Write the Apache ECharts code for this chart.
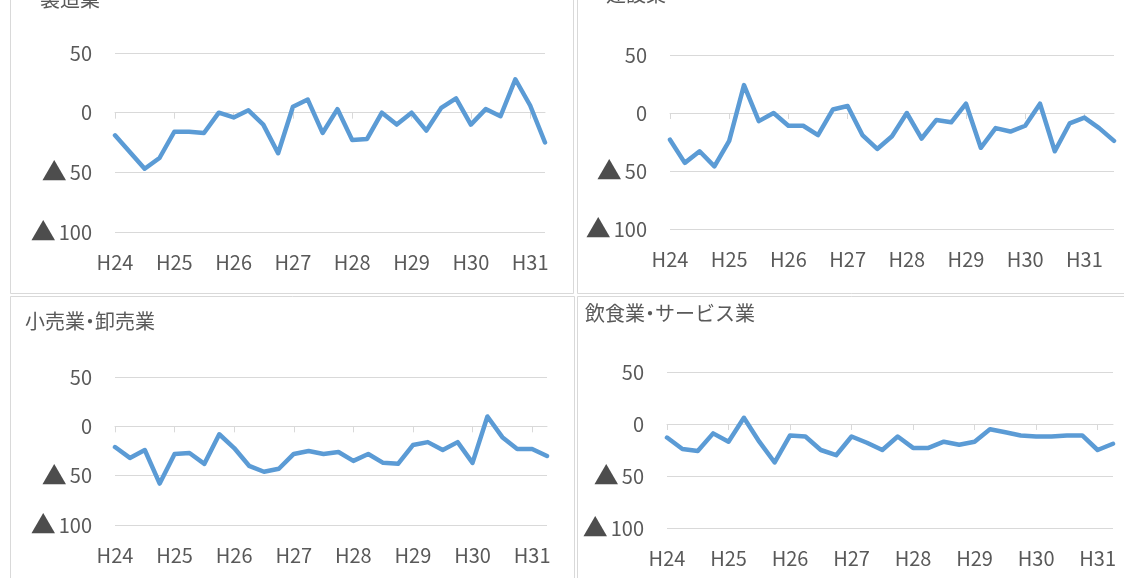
<!DOCTYPE html>
<html>
<head>
<meta charset="utf-8">
<script src="https://cdn.jsdelivr.net/npm/echarts@6/dist/echarts.min.js"></script>
<style>
  html, body { margin: 0; padding: 0; background: #fff; }
  #main { width: 1124px; height: 578px; }
</style>
</head>
<body>
<div id="main"></div>
<script>
// 年度ラベル（四半期ごとのデータ）
var years = ['H24', 'H25', 'H26', 'H27', 'H28', 'H29', 'H30', 'H31', 'H32'];
var yTicks = [-100, -50, 0, 50];

// 各業種のDI値
var seizou = [-19, -33, -47, -38, -16, -16, -17, 0, -4, 2, -10, -34, 5, 11, -17, 3, -23, -22, 0, -10, 0, -15, 4, 12, -10, 3, -3, 28, 6, -25];
var kensetsu = [-23, -43, -33, -46, -24, 24, -7, 0, -11, -11, -19, 3, 6, -19, -31, -20, 0, -22, -6, -8, 8, -30, -13, -16, -11, 8, -33, -9, -4, -13, -24];
var kouri = [-21, -32, -24, -58, -28, -27, -38, -8, -22, -40, -46, -43, -28, -25, -28, -26, -35, -28, -37, -38, -19, -16, -24, -16, -37, 10, -11, -23, -23, -30];
var inshoku = [-13, -24, -26, -9, -17, 6, -17, -37, -11, -12, -25, -30, -12, -18, -25, -12, -23, -23, -17, -20, -17, -5, -8, -11, -12, -12, -11, -11, -25, -19];

var panels = [
    {title: ['製造業'], data: seizou, grid: {left: 115, right: 579, top: 53, bottom: 346}, titlePos: {left: 40, top: -11}},
    {title: ['建設業'], data: kensetsu, grid: {left: 670, right: 10, top: 55, bottom: 349}, titlePos: {left: 606, top: -16}},
    {title: ['小売業', '卸売業'], data: kouri, grid: {left: 115, right: 577, top: 377, bottom: 53}, titlePos: {left: 25, top: 311}},
    {title: ['飲食業', 'サービス業'], data: inshoku, grid: {left: 667, right: 11, top: 372, bottom: 50}, titlePos: {left: 585, top: 303}}
];

var categories = [];
years.forEach(function(y){
    for (var q = 1; q <= 4; q++) categories.push(y + '-' + q);
});

var font = '"Noto Sans CJK JP", "Open Sans", sans-serif';
var labelColor = '#595959';
var lineColor = '#D9D9D9';

var option = {
    backgroundColor: '#fff',
    animation: false,
    title: [],
    grid: [],
    xAxis: [],
    yAxis: [],
    series: [],
    graphic: [
        {type: 'rect', shape: {x: 10.5, y: -5, width: 563, height: 298.5}, style: {fill: 'none', stroke: lineColor, lineWidth: 1}},
        {type: 'rect', shape: {x: 577.5, y: -5, width: 560, height: 298.5}, style: {fill: 'none', stroke: lineColor, lineWidth: 1}},
        {type: 'rect', shape: {x: 10.5, y: 296.5, width: 564, height: 300}, style: {fill: 'none', stroke: lineColor, lineWidth: 1}},
        {type: 'rect', shape: {x: 577.5, y: 296.5, width: 560, height: 300}, style: {fill: 'none', stroke: lineColor, lineWidth: 1}}
    ]
};

panels.forEach(function(p, i){
    var cats = categories.slice(0, p.data.length);
    option.title.push({
        // 中黒は詰めて表示
        text: p.title.join('{d|・}'),
        left: p.titlePos.left,
        top: p.titlePos.top,
        padding: 0,
        textStyle: {
            fontFamily: font, fontSize: 20, fontWeight: 'normal', color: labelColor,
            rich: {d: {fontFamily: font, fontSize: 20, color: labelColor, width: 10, align: 'center'}}
        }
    });
    option.grid.push(p.grid);
    // 0の位置の軸線と目盛
    option.xAxis.push({
        type: 'category',
        gridIndex: i,
        data: cats,
        boundaryGap: false,
        axisLine: {onZero: true, lineStyle: {color: lineColor, width: 1}},
        axisTick: {show: true, interval: 3, length: 6, lineStyle: {color: lineColor}},
        axisLabel: {show: false},
        splitLine: {show: false}
    });
    // 下端のラベル
    option.xAxis.push({
        type: 'category',
        gridIndex: i,
        data: cats,
        position: 'bottom',
        boundaryGap: false,
        axisLine: {show: false, onZero: false},
        axisTick: {show: false},
        axisLabel: {
            interval: 3,
            margin: 20,
            fontFamily: font,
            fontSize: 20,
            color: labelColor,
            formatter: function(v){ return v.split('-')[0]; }
        },
        splitLine: {show: false}
    });
    option.yAxis.push({
        type: 'value',
        gridIndex: i,
        min: yTicks[0],
        max: yTicks[yTicks.length - 1],
        interval: 50,
        axisLine: {show: false},
        axisTick: {show: false},
        axisLabel: {
            margin: 23,
            fontFamily: font,
            fontSize: 20,
            color: labelColor,
            formatter: function(v){ return v < 0 ? '{t|▲}' + (-v) : String(v); },
            rich: {
                t: {fontFamily: font, fontSize: 25, color: '#4d4d4d', padding: [0, 3, 1, 0]}
            }
        },
        splitLine: {lineStyle: {color: lineColor, width: 1}}
    });
    option.series.push({
        type: 'line',
        xAxisIndex: i * 2,
        yAxisIndex: i,
        data: p.data,
        symbol: 'none',
        lineStyle: {color: '#5B9BD5', width: 4.5, join: 'round', cap: 'round'}
    });
});

var chart = echarts.init(document.getElementById('main'));
chart.setOption(option);
</script>
</body>
</html>
